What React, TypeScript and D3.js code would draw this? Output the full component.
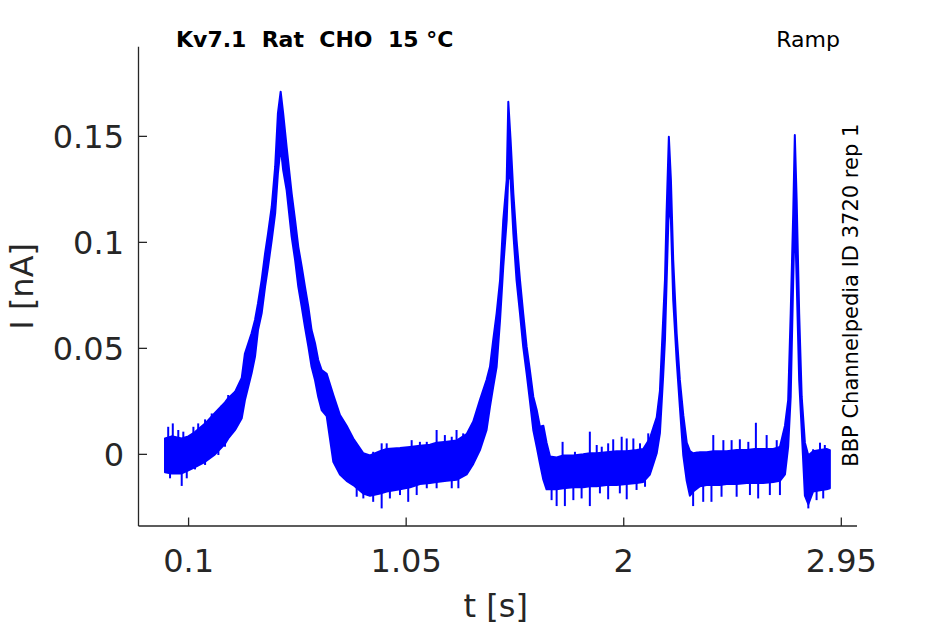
import React from "react";
import * as d3 from "d3";

const timeS = [
  -0.003, 0.026, 0.07, 0.099, 0.128, 0.172, 0.215, 0.259, 0.273, 0.303, 0.332, 0.346, 0.375, 0.39, 0.403,
  0.419, 0.434, 0.447, 0.463, 0.478, 0.49, 0.502, 0.513, 0.528, 0.55, 0.565, 0.579, 0.594, 0.608, 0.623,
  0.637, 0.652, 0.666, 0.681, 0.703, 0.732, 0.761, 0.79, 0.819, 0.863, 0.892, 0.936, 0.965, 1.023, 1.067,
  1.11, 1.154, 1.183, 1.227, 1.27, 1.314, 1.343, 1.372, 1.401, 1.416, 1.43, 1.445, 1.46, 1.474, 1.489,
  1.496, 1.506, 1.518, 1.532, 1.547, 1.561, 1.576, 1.59, 1.605, 1.62, 1.634, 1.649, 1.663, 1.678, 1.707,
  1.736, 1.78, 1.823, 1.852, 1.882, 1.925, 1.969, 2.013, 2.056, 2.085, 2.114, 2.129, 2.144, 2.158, 2.172,
  2.18, 2.187, 2.197, 2.206, 2.216, 2.231, 2.245, 2.26, 2.275, 2.289, 2.303, 2.333, 2.362, 2.391, 2.42,
  2.449, 2.493, 2.537, 2.573, 2.609, 2.653, 2.682, 2.704, 2.718, 2.729, 2.74, 2.747, 2.755, 2.766, 2.777,
  2.791, 2.806, 2.827, 2.857, 2.886, 2.9,
];
const upperNA = [
  0.0075, 0.0085, 0.0075, 0.0085, 0.0105, 0.0145, 0.0195, 0.0245, 0.0265, 0.0295, 0.036, 0.0476, 0.0571, 0.0634, 0.0712,
  0.0822, 0.0948, 0.1042, 0.1168, 0.1357, 0.1608, 0.1711, 0.1608, 0.1451, 0.1231, 0.1105, 0.0979, 0.0885, 0.0791, 0.0696,
  0.0586, 0.0524, 0.0445, 0.0398, 0.038, 0.028, 0.0185, 0.0135, 0.0075, 0.0005, -0.0005, 0.0015, 0.0025, 0.003, 0.0035,
  0.004, 0.0045, 0.0055, 0.006, 0.0065, 0.0095, 0.0155, 0.0256, 0.0351, 0.0413, 0.0539, 0.0665, 0.0822, 0.1105, 0.1294,
  0.1663, 0.1483, 0.1231, 0.1011, 0.0822, 0.0665, 0.0508, 0.0398, 0.0272, 0.0209, 0.013, 0.0135, 0.0055, -0.001, -0.0015,
  -0.0005, -0.0005, 0.0, 0.0005, 0.0005, 0.001, 0.0015, 0.0015, 0.002, 0.0025, 0.0075, 0.0125, 0.0175, 0.03, 0.0634,
  0.0822, 0.1137, 0.1498, 0.1294, 0.0917, 0.0571, 0.0351, 0.0185, 0.0055, 0.0015, 0.0005, 0.001, 0.001, 0.0015, 0.0015,
  0.0015, 0.002, 0.002, 0.0025, 0.0025, 0.0025, 0.0035, 0.0135, 0.0256, 0.0665, 0.1137, 0.1506, 0.12, 0.0665, 0.0272,
  0.0055, -0.0005, 0.0015, 0.002, 0.0025, 0.002,
];
const lowerNA = [
  -0.0085, -0.009, -0.009, -0.0075, -0.006, -0.0035, 0.0, 0.005, 0.0075, 0.0115, 0.017, 0.0256, 0.0382, 0.0461, 0.0586,
  0.0665, 0.0791, 0.0885, 0.1011, 0.1137, 0.1325, 0.1451, 0.1341, 0.1247, 0.1027, 0.0917, 0.0791, 0.0696, 0.0602, 0.0508,
  0.0413, 0.0351, 0.0272, 0.0209, 0.018, -0.0035, -0.0095, -0.0125, -0.0145, -0.0185, -0.0195, -0.0185, -0.0175, -0.0165, -0.0155,
  -0.014, -0.0135, -0.013, -0.0125, -0.012, -0.0095, -0.0045, 0.002, 0.0115, 0.0225, 0.0319, 0.0413, 0.0634, 0.0885, 0.1105,
  0.1325, 0.1294, 0.1042, 0.0822, 0.0665, 0.0508, 0.0382, 0.0256, 0.0115, 0.0036, -0.0042, -0.012, -0.0165, -0.0165, -0.0165,
  -0.016, -0.0155, -0.0155, -0.015, -0.015, -0.0145, -0.0145, -0.014, -0.0135, -0.013, -0.0095, -0.0045, 0.0005, 0.01, 0.0366,
  0.0539, 0.0807, 0.1184, 0.1105, 0.0728, 0.0445, 0.0225, -0.0005, -0.0125, -0.0195, -0.0175, -0.015, -0.0145, -0.0145, -0.0145,
  -0.014, -0.014, -0.0135, -0.0135, -0.0135, -0.013, -0.0125, -0.0095, 0.0036, 0.0272, 0.0822, 0.1137, 0.0822, 0.0351, 0.0115,
  -0.0195, -0.0235, -0.0175, -0.017, -0.0165, -0.016,
];

// Prominent noise spikes (tips)
const spikeT = [
  0.011, 0.031, 0.055, 0.077, 0.121, 0.142, 0.172, 0.201, 0.245, 0.273,
  0.019, 0.07, 0.092, 0.128, 0.172, 0.23, 0.259, 0.834,
  0.906, 0.943, 0.965, 1.023, 1.074, 1.11, 1.14, 1.183, 1.219, 1.249, 1.27, 1.299,
  0.863, 0.906, 0.943, 0.979, 1.023, 1.059, 1.096, 1.14, 1.183, 1.249, 1.278,
  1.733, 1.787, 1.852, 1.882, 1.904, 1.932, 1.954, 1.991, 2.013, 2.042, 2.071, 2.107,
  1.685, 1.707, 1.743, 1.78, 1.816, 1.852, 1.896, 1.932, 1.983, 2.013, 2.056, 2.093,
  2.318, 2.391, 2.435, 2.471, 2.507, 2.544, 2.577, 2.624, 2.668, 2.696,
  2.303, 2.347, 2.383, 2.427, 2.493, 2.551, 2.587, 2.638, 2.682,
  2.827, 2.857, 2.878, 2.806, 2.842, 2.871,
];
const spikeNA = [
  0.013, 0.0146, 0.0115, 0.0107, 0.013, 0.0146, 0.0165, 0.0193, 0.0232, 0.028,
  -0.0113, -0.0149, -0.0113, -0.0071, -0.005, -0.0003, 0.0036, -0.02,
  0.0012, 0.0052, 0.0052, 0.0028, 0.0067, 0.0059, 0.0059, 0.0115, 0.0091, 0.0083, 0.0115, 0.0099,
  -0.0208, -0.0224, -0.0255, -0.0208, -0.0192, -0.0224, -0.0192, -0.016, -0.016, -0.016, -0.016,
  0.0059, 0.0012, 0.0107, 0.0044, 0.0036, 0.0052, 0.0071, 0.0083, 0.0075, 0.0075, 0.0052, 0.0099,
  -0.0216, -0.0244, -0.0244, -0.0216, -0.0208, -0.0244, -0.0184, -0.0212, -0.0184, -0.0212, -0.0168, -0.0153,
  0.0012, 0.0091, 0.0067, 0.0067, 0.0071, 0.0059, 0.0149, 0.0091, 0.0067, 0.0044,
  -0.0244, -0.0224, -0.0224, -0.02, -0.02, -0.0192, -0.0208, -0.0192, -0.0192,
  0.0024, 0.0055, 0.0044, -0.0255, -0.0216, -0.0208,
];

const xTicks = [0.1, 1.05, 2, 2.95];
const xTickLabels = ["0.1", "1.05", "2", "2.95"];
const yTicks = [0, 0.05, 0.1, 0.15];
const yTickLabels = ["0", "0.05", "0.1", "0.15"];

const titleText = "Kv7.1\u00a0\u00a0Rat\u00a0\u00a0CHO\u00a0\u00a015 \u00b0C";
const protocolText = "Ramp";
const sideText = "BBP Channelpedia ID 3720 rep 1";
const xLabel = "t [s]";
const yLabel = "I [nA]";

const W = 945;
const H = 624;
const left = 138.5;
const right = 857;
const top = 46.7;
const bottom = 526;
const axisColor = "#262626";
const blue = "#0000ff";
const font = "DejaVu Sans, sans-serif";

export default function App() {
  const x = d3.scaleLinear().domain([-0.1187, 3.0185]).range([left, right]);
  const y = d3.scaleLinear().domain([-0.0338, 0.1923]).range([bottom, top]);

  const pts = timeS.map((t, i) => ({ t, hi: upperNA[i], lo: lowerNA[i] }));
  const area = d3
    .area<{ t: number; hi: number; lo: number }>()
    .x((d) => x(d.t))
    .y0((d) => y(d.lo))
    .y1((d) => y(d.hi));

  // middle of the dense core, used as the root of each spike
  const coreMid = d3
    .scaleLinear()
    .domain(timeS)
    .range(timeS.map((_, i) => (upperNA[i] + lowerNA[i]) / 2))
    .clamp(true);

  return (
    <div style={{ position: "fixed", left: 0, top: 0 }}>
      <svg width={W} height={H} viewBox={`0 0 ${W} ${H}`} style={{ display: "block", background: "#fff" }}>
        <path d={area(pts) || ""} fill={blue} stroke={blue} strokeWidth={2} strokeLinejoin="round" />
        {spikeT.map((t, i) => (
          <line
            key={`sp${i}`}
            x1={x(t)}
            x2={x(t)}
            y1={y(coreMid(t))}
            y2={y(spikeNA[i])}
            stroke={blue}
            strokeWidth={2}
          />
        ))}

        {/* axes */}
        <line x1={left} x2={right} y1={bottom} y2={bottom} stroke={axisColor} strokeWidth={1.3} />
        <line x1={left} x2={left} y1={top} y2={bottom} stroke={axisColor} strokeWidth={1.3} />

        {xTicks.map((t, i) => (
          <g key={`xt${i}`}>
            <line x1={x(t)} x2={x(t)} y1={bottom} y2={bottom - 8.5} stroke={axisColor} strokeWidth={1.3} />
            <text x={x(t)} y={572} textAnchor="middle" fontFamily={font} fontSize={32} fill={axisColor}>
              {xTickLabels[i]}
            </text>
          </g>
        ))}
        {yTicks.map((v, i) => (
          <g key={`yt${i}`}>
            <line x1={left} x2={left + 8.5} y1={y(v)} y2={y(v)} stroke={axisColor} strokeWidth={1.3} />
            <text x={124} y={y(v) + 11.7} textAnchor="end" fontFamily={font} fontSize={32} fill={axisColor}>
              {yTickLabels[i]}
            </text>
          </g>
        ))}

        <text x={(left + right) / 2 - 2} y={617} textAnchor="middle" fontFamily={font} fontSize={32} fill={axisColor}>
          {xLabel}
        </text>
        <text
          transform={`translate(33.3, ${(top + bottom) / 2}) rotate(-90)`}
          textAnchor="middle"
          fontFamily={font}
          fontSize={32}
          fill={axisColor}
        >
          {yLabel}
        </text>

        <text x={176} y={47.3} fontFamily={font} fontWeight="bold" fontSize={22} fill="#000">
          {titleText}
        </text>
        <text x={840} y={47.3} textAnchor="end" fontFamily={font} fontSize={22} fill="#000">
          {protocolText}
        </text>
        <text transform={`translate(858.3, 466.7) rotate(-90)`} fontFamily={font} fontSize={21} fill="#000">
          {sideText}
        </text>
      </svg>
    </div>
  );
}
